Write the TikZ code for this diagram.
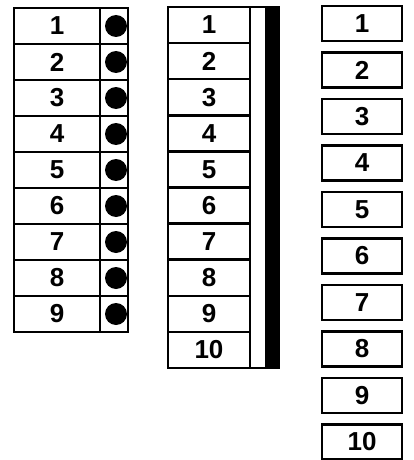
\documentclass[tikz,border=0pt]{standalone}
\usepackage{fontspec}
\setmainfont{Liberation Sans}
\begin{document}
\begin{tikzpicture}[x=1pt,y=-1pt,line width=2.5pt,
  numfont/.style={font=\fontsize{26}{26}\selectfont\bfseries},
  lcell/.style={draw,numfont,minimum width=86pt,minimum height=36pt,inner sep=0pt},
  dcell/.style={draw,minimum width=28pt,minimum height=36pt,inner sep=0pt},
  dot/.style={circle,fill=black,minimum size=22pt,inner sep=0pt},
  mcell/.style={draw,numfont,minimum width=82pt,minimum height=36.1pt,inner sep=0pt},
  rbox/.style={draw,numfont,minimum width=80pt,minimum height=35pt,inner sep=0pt}]
\useasboundingbox (0,0) rectangle (414,460);
% left table
\foreach \i in {1,...,9} {
  \pgfmathsetmacro\yc{26+36*(\i-1)}
  \node[lcell] (L\i) at (57,\yc) {\i};
  \node[dcell] (D\i) at (114,\yc) {};
  \node[dot] (P\i) at (116,\yc) {};
}
% middle table
\foreach \i in {1,...,10} {
  \pgfmathsetmacro\yc{25.05+36.1*(\i-1)}
  \node[mcell] (M\i) at (209,\yc) {\i};
}
\node[draw,minimum width=29pt,minimum height=361pt,inner sep=0pt] (strip) at (264.5,187.5) {};
\node[fill=black,minimum width=14pt,minimum height=361pt,inner sep=0pt] (bar) at (272,187.5) {};
% right boxes
\foreach \i in {1,...,10} {
  \pgfmathsetmacro\yc{23.5+46.5*(\i-1)}
  \node[rbox] (R\i) at (362,\yc) {\i};
}
\end{tikzpicture}
\end{document}
